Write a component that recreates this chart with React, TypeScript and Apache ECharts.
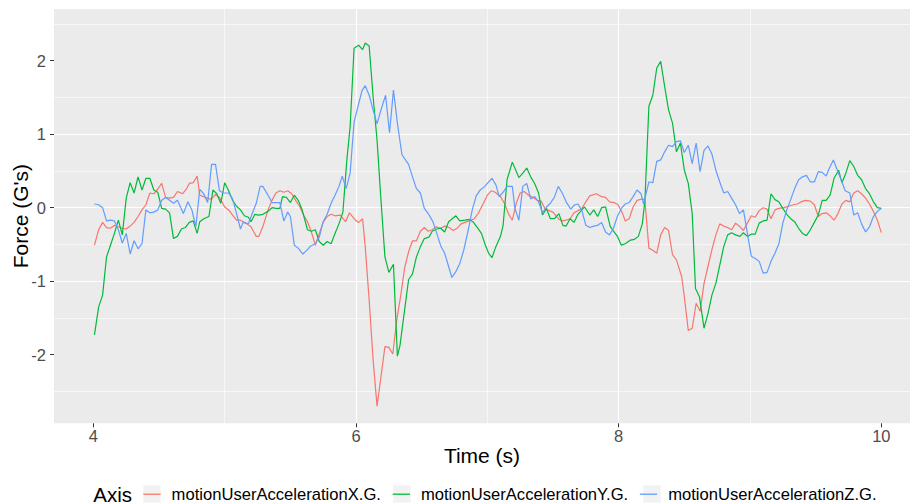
import React, { useEffect, useRef } from 'react';
import * as echarts from 'echarts';

const seriesNames = ['motionUserAccelerationX.G.', 'motionUserAccelerationY.G.', 'motionUserAccelerationZ.G.'];
const seriesColors = ['#F8766D', '#00BA38', '#619CFF'];
const xTicks = [4, 6, 8, 10];
const yTicks = [-2, -1, 0, 1, 2];

const accelX: [number, number][] = [
  [4.008, -0.51], [4.04, -0.3], [4.07, -0.2], [4.1, -0.27], [4.13, -0.28], [4.16, -0.24], [4.19, -0.26], [4.22, -0.28],
  [4.25, -0.29], [4.28, -0.25], [4.31, -0.2], [4.34, -0.12], [4.37, -0.03], [4.4, 0.04], [4.43, 0.2], [4.46, 0.19],
  [4.48, 0.23], [4.52, 0.33], [4.55, 0.14], [4.58, 0.13], [4.61, 0.14], [4.64, 0.22], [4.68, 0.19], [4.71, 0.26],
  [4.73, 0.33], [4.76, 0.34], [4.79, 0.43], [4.81, 0.17], [4.84, 0.15], [4.88, 0.12], [4.9, 0.12], [4.93, 0.18],
  [4.96, 0.14], [5.0, 0.01], [5.03, -0.03], [5.06, -0.1], [5.09, -0.17], [5.12, -0.17], [5.15, -0.2], [5.17, -0.22],
  [5.2, -0.26], [5.24, -0.39], [5.26, -0.39], [5.29, -0.26], [5.33, -0.03], [5.36, 0.1], [5.39, 0.2], [5.42, 0.23],
  [5.45, 0.21], [5.48, 0.23], [5.51, 0.19], [5.54, 0.1], [5.57, 0.02], [5.6, -0.1], [5.63, -0.19], [5.66, -0.33],
  [5.69, -0.51], [5.72, -0.35], [5.75, -0.2], [5.78, -0.12], [5.81, -0.09], [5.84, -0.11], [5.88, -0.1], [5.92, -0.19],
  [5.95, -0.07], [5.99, -0.16], [6.02, -0.2], [6.05, -0.15], [6.07, -0.53], [6.1, -1.26], [6.13, -2.07], [6.16, -2.7],
  [6.19, -2.3], [6.22, -1.89], [6.25, -1.9], [6.28, -1.99], [6.31, -1.53], [6.34, -1.2], [6.37, -0.82], [6.4, -0.6],
  [6.43, -0.45], [6.46, -0.45], [6.49, -0.32], [6.52, -0.27], [6.55, -0.32], [6.58, -0.3], [6.61, -0.26], [6.645, -0.28],
  [6.675, -0.25], [6.71, -0.27], [6.74, -0.31], [6.77, -0.28], [6.8, -0.22], [6.83, -0.2], [6.86, -0.18], [6.9, -0.15],
  [6.93, -0.08], [6.97, 0.06], [7.0, 0.17], [7.03, 0.23], [7.06, 0.21], [7.1, 0.15], [7.13, 0.06], [7.16, -0.08],
  [7.19, -0.17], [7.22, 0.06], [7.25, 0.2], [7.28, 0.22], [7.32, 0.16], [7.35, 0.14], [7.38, 0.1], [7.41, 0.09],
  [7.44, -0.02], [7.47, -0.04], [7.5, -0.06], [7.54, -0.15], [7.57, -0.18], [7.6, -0.17], [7.63, -0.15], [7.66, -0.07],
  [7.69, -0.04], [7.72, -0.01], [7.75, 0.08], [7.78, 0.16], [7.83, 0.19], [7.87, 0.15], [7.9, 0.14], [7.93, 0.08],
  [7.965, 0.07], [7.995, 0.04], [8.03, -0.08], [8.05, -0.18], [8.08, -0.15], [8.11, 0.01], [8.14, 0.1], [8.18, 0.12],
  [8.2, 0.1], [8.23, -0.55], [8.26, -0.58], [8.29, -0.62], [8.32, -0.37], [8.35, -0.27], [8.38, -0.31], [8.41, -0.64],
  [8.44, -0.71], [8.48, -0.94], [8.5, -1.21], [8.53, -1.67], [8.56, -1.64], [8.59, -1.3], [8.62, -1.41], [8.65, -1.03],
  [8.68, -0.8], [8.71, -0.57], [8.74, -0.37], [8.77, -0.22], [8.8, -0.25], [8.83, -0.27], [8.86, -0.3], [8.89, -0.21],
  [8.924, -0.26], [8.95, -0.31], [8.98, -0.21], [9.01, -0.11], [9.04, -0.13], [9.07, -0.04], [9.1, 0.0], [9.13, -0.02],
  [9.16, -0.15], [9.19, -0.03], [9.22, -0.01], [9.26, 0.0], [9.295, 0.02], [9.33, 0.04], [9.36, 0.05], [9.39, 0.08],
  [9.42, 0.1], [9.46, 0.09], [9.49, 0.04], [9.52, -0.12], [9.55, -0.08], [9.58, -0.07], [9.61, -0.11], [9.64, -0.17],
  [9.67, -0.08], [9.7, 0.05], [9.73, 0.1], [9.76, 0.08], [9.79, 0.2], [9.82, 0.23], [9.85, 0.19], [9.88, 0.13],
  [9.91, 0.05], [9.94, -0.05], [9.97, -0.17], [10.0, -0.34],
];

const accelY: [number, number][] = [
  [4.008, -1.73], [4.04, -1.35], [4.07, -1.19], [4.1, -0.67], [4.13, -0.51], [4.16, -0.35], [4.19, -0.17], [4.22, -0.37],
  [4.25, 0.13], [4.28, 0.34], [4.31, 0.2], [4.34, 0.42], [4.37, 0.24], [4.4, 0.4], [4.43, 0.4], [4.46, 0.24],
  [4.49, 0.21], [4.52, -0.01], [4.55, -0.02], [4.58, -0.07], [4.61, -0.42], [4.64, -0.39], [4.67, -0.29], [4.7, -0.27],
  [4.73, -0.2], [4.76, -0.18], [4.79, -0.35], [4.81, -0.19], [4.84, -0.15], [4.88, -0.12], [4.91, 0.24], [4.94, 0.19],
  [4.97, 0.06], [5.0, 0.34], [5.03, 0.23], [5.06, 0.1], [5.09, 0.02], [5.12, -0.03], [5.15, -0.11], [5.18, -0.13],
  [5.2, -0.19], [5.23, -0.09], [5.26, -0.1], [5.29, -0.09], [5.33, -0.05], [5.36, 0.0], [5.39, -0.01], [5.42, -0.01],
  [5.44, 0.15], [5.47, 0.14], [5.5, 0.07], [5.53, 0.17], [5.56, 0.1], [5.59, -0.03], [5.63, -0.3], [5.66, -0.32],
  [5.69, -0.3], [5.72, -0.46], [5.75, -0.51], [5.78, -0.46], [5.81, -0.49], [5.84, -0.35], [5.87, -0.22], [5.9, -0.06],
  [5.93, 0.65], [5.955, 1.1], [5.985, 2.17], [6.02, 2.21], [6.05, 2.15], [6.07, 2.24], [6.1, 2.2], [6.13, 1.51],
  [6.16, 0.92], [6.19, 0.1], [6.22, -0.67], [6.25, -0.88], [6.285, -0.77], [6.315, -2.02], [6.335, -1.87], [6.37, -1.39],
  [6.4, -0.98], [6.43, -0.9], [6.46, -0.67], [6.49, -0.53], [6.52, -0.42], [6.555, -0.4], [6.58, -0.32], [6.615, -0.29],
  [6.645, -0.28], [6.675, -0.33], [6.705, -0.19], [6.76, -0.11], [6.79, -0.18], [6.83, -0.17], [6.86, -0.16], [6.89, -0.19],
  [6.92, -0.26], [6.955, -0.35], [6.985, -0.51], [7.01, -0.62], [7.035, -0.68], [7.065, -0.53], [7.1, -0.39], [7.12, -0.24],
  [7.15, 0.38], [7.19, 0.62], [7.24, 0.41], [7.27, 0.47], [7.3, 0.54], [7.33, 0.42], [7.36, 0.33], [7.39, 0.2],
  [7.42, -0.1], [7.45, -0.01], [7.48, -0.15], [7.51, -0.15], [7.545, -0.08], [7.575, -0.24], [7.6, -0.25], [7.63, -0.15],
  [7.66, -0.2], [7.69, -0.09], [7.74, 0.01], [7.78, -0.1], [7.81, -0.03], [7.84, -0.12], [7.87, 0.0], [7.9, 0.01],
  [7.935, -0.25], [7.965, -0.33], [7.99, -0.39], [8.02, -0.51], [8.05, -0.49], [8.09, -0.44], [8.12, -0.43], [8.15, -0.39],
  [8.18, -0.22], [8.2, 0.1], [8.23, 1.38], [8.26, 1.53], [8.29, 1.9], [8.32, 1.99], [8.35, 1.65], [8.38, 1.33],
  [8.41, 1.15], [8.44, 0.76], [8.47, 0.88], [8.5, 0.51], [8.53, 0.33], [8.56, -0.08], [8.585, -1.1], [8.615, -1.21],
  [8.65, -1.64], [8.68, -1.44], [8.71, -1.19], [8.74, -1.03], [8.77, -0.78], [8.8, -0.53], [8.83, -0.37], [8.86, -0.34],
  [8.89, -0.37], [8.924, -0.39], [8.95, -0.34], [8.98, -0.39], [9.01, -0.36], [9.04, -0.36], [9.07, -0.21], [9.1, -0.18],
  [9.13, -0.17], [9.16, 0.19], [9.19, 0.11], [9.22, 0.08], [9.25, -0.01], [9.28, -0.09], [9.31, -0.15], [9.34, -0.19],
  [9.37, -0.28], [9.4, -0.35], [9.43, -0.38], [9.46, -0.3], [9.49, -0.2], [9.52, -0.1], [9.55, 0.1], [9.58, 0.1],
  [9.61, 0.17], [9.64, 0.4], [9.675, 0.51], [9.7, 0.34], [9.73, 0.47], [9.76, 0.64], [9.79, 0.56], [9.82, 0.44],
  [9.85, 0.38], [9.88, 0.26], [9.91, 0.19], [9.94, 0.08], [9.97, 0.0], [10.0, -0.01],
];

const accelZ: [number, number][] = [
  [4.008, 0.05], [4.04, 0.04], [4.07, 0.0], [4.1, -0.18], [4.13, -0.17], [4.16, -0.18], [4.19, -0.3], [4.22, -0.48],
  [4.25, -0.35], [4.28, -0.63], [4.31, -0.45], [4.34, -0.56], [4.37, -0.49], [4.4, -0.03], [4.43, -0.07], [4.46, -0.06],
  [4.49, -0.03], [4.52, 0.1], [4.55, 0.14], [4.58, 0.1], [4.61, 0.06], [4.64, 0.1], [4.685, -0.08], [4.72, 0.08],
  [4.75, -0.03], [4.78, -0.26], [4.81, 0.25], [4.84, 0.19], [4.87, 0.07], [4.9, 0.59], [4.93, 0.59], [4.96, 0.23],
  [4.99, 0.2], [5.03, 0.2], [5.06, 0.12], [5.09, -0.08], [5.12, -0.29], [5.14, -0.2], [5.18, -0.22], [5.21, -0.08],
  [5.24, 0.06], [5.27, 0.29], [5.29, 0.29], [5.33, 0.17], [5.36, 0.07], [5.42, 0.07], [5.45, -0.18], [5.48, -0.06],
  [5.5, -0.12], [5.53, -0.51], [5.56, -0.55], [5.595, -0.63], [5.625, -0.58], [5.655, -0.52], [5.69, -0.49], [5.72, -0.4],
  [5.75, -0.19], [5.78, -0.09], [5.81, 0.06], [5.84, 0.17], [5.87, 0.29], [5.895, 0.43], [5.925, 0.26], [5.955, 0.47],
  [5.985, 1.16], [6.015, 1.38], [6.045, 1.59], [6.07, 1.66], [6.1, 1.53], [6.13, 1.33], [6.16, 1.14], [6.19, 1.33],
  [6.225, 1.53], [6.255, 1.02], [6.285, 1.6], [6.315, 1.15], [6.335, 0.9], [6.35, 0.72], [6.4, 0.59], [6.43, 0.42],
  [6.46, 0.26], [6.49, 0.2], [6.52, -0.01], [6.55, -0.08], [6.585, -0.19], [6.615, -0.35], [6.645, -0.52], [6.675, -0.62],
  [6.705, -0.8], [6.73, -0.95], [6.76, -0.87], [6.79, -0.76], [6.82, -0.58], [6.855, -0.3], [6.885, -0.03], [6.915, 0.16],
  [6.945, 0.24], [6.975, 0.28], [7.005, 0.34], [7.035, 0.4], [7.065, 0.31], [7.09, 0.15], [7.12, 0.21], [7.15, 0.29],
  [7.19, 0.29], [7.21, -0.01], [7.24, -0.17], [7.27, 0.29], [7.3, 0.33], [7.33, 0.12], [7.36, 0.15], [7.39, 0.08],
  [7.42, -0.07], [7.45, 0.01], [7.48, 0.06], [7.51, 0.14], [7.54, 0.29], [7.57, 0.2], [7.6, 0.08], [7.635, -0.02],
  [7.665, 0.04], [7.69, 0.05], [7.72, -0.04], [7.75, -0.24], [7.78, -0.27], [7.81, -0.25], [7.84, -0.24], [7.87, -0.2],
  [7.9, -0.33], [7.93, -0.37], [7.96, -0.28], [7.99, -0.12], [8.02, -0.01], [8.05, 0.05], [8.08, 0.07], [8.11, 0.15],
  [8.14, 0.24], [8.17, 0.19], [8.19, 0.05], [8.23, 0.35], [8.26, 0.34], [8.29, 0.63], [8.32, 0.65], [8.35, 0.76],
  [8.38, 0.85], [8.41, 0.83], [8.44, 0.9], [8.47, 0.91], [8.5, 0.75], [8.53, 0.85], [8.56, 0.6], [8.59, 0.88],
  [8.62, 0.49], [8.65, 0.78], [8.68, 0.84], [8.71, 0.73], [8.74, 0.51], [8.77, 0.35], [8.8, 0.2], [8.83, 0.22],
  [8.86, 0.13], [8.89, 0.04], [8.92, -0.08], [8.95, -0.03], [8.98, -0.35], [9.01, -0.66], [9.04, -0.69], [9.07, -0.73],
  [9.1, -0.89], [9.13, -0.88], [9.16, -0.73], [9.19, -0.62], [9.22, -0.49], [9.25, -0.21], [9.28, -0.03], [9.31, 0.11],
  [9.34, 0.26], [9.37, 0.38], [9.4, 0.42], [9.43, 0.44], [9.46, 0.35], [9.49, 0.35], [9.52, 0.49], [9.55, 0.48],
  [9.58, 0.43], [9.605, 0.54], [9.635, 0.65], [9.665, 0.51], [9.7, 0.35], [9.725, 0.23], [9.76, 0.2], [9.79, -0.1],
  [9.82, -0.07], [9.85, -0.22], [9.88, -0.33], [9.91, -0.26], [9.94, -0.12], [9.97, -0.05], [10.0, -0.01],
];

const seriesData = [accelX, accelY, accelZ];

export default function App() {
  const ref = useRef<HTMLDivElement>(null);
  useEffect(() => {
    document.body.style.margin = '0';
    const chart = echarts.init(ref.current as HTMLDivElement, null, { renderer: 'svg' });
    const font = '"Liberation Sans", Arial, sans-serif';
    const keyX = [143.3, 393.3, 643.3];
    chart.setOption({
      animation: false,
      backgroundColor: '#FFFFFF',
      grid: {
        left: 54, right: 0, top: 9, bottom: 80.7,
        show: true, backgroundColor: '#EBEBEB', borderWidth: 0,
        containLabel: false, outerBoundsMode: 'none',
      },
      xAxis: {
        type: 'value', min: 3.7, max: 10.2185, splitNumber: 3, minInterval: 2, maxInterval: 2,
        name: 'Time (s)', nameLocation: 'middle', nameGap: 22, nameMoveOverlap: false,
        nameTextStyle: { fontSize: 21, color: '#000000', fontFamily: font },
        axisLine: { show: false, onZero: false },
        axisTick: { show: true, length: 4, customValues: xTicks, lineStyle: { color: '#333333', width: 1 } },
        axisLabel: { customValues: xTicks, fontSize: 16.5, color: '#4D4D4D', margin: 4, fontFamily: font },
        splitLine: { show: true, showMinLine: false, showMaxLine: false, lineStyle: { color: '#FFFFFF', width: 1.2 } },
        minorTick: { show: false, splitNumber: 2 },
        minorSplitLine: { show: true, lineStyle: { color: '#FFFFFF', width: 0.6 } },
      },
      yAxis: {
        type: 'value', min: -2.933, max: 2.703, splitNumber: 5, minInterval: 1, maxInterval: 1,
        name: "Force (G's)", nameLocation: 'middle', nameGap: 23, nameMoveOverlap: false,
        nameTextStyle: { fontSize: 21, color: '#000000', fontFamily: font },
        axisLine: { show: false, onZero: false },
        axisTick: { show: true, length: 4, customValues: yTicks, lineStyle: { color: '#333333', width: 1 } },
        axisLabel: { customValues: yTicks, fontSize: 16.5, color: '#4D4D4D', margin: 8, fontFamily: font },
        splitLine: { show: true, showMinLine: false, showMaxLine: false, lineStyle: { color: '#FFFFFF', width: 1.2 } },
        minorTick: { show: false, splitNumber: 2 },
        minorSplitLine: { show: true, lineStyle: { color: '#FFFFFF', width: 0.6 } },
      },
      legend: {
        left: 143.3, top: 485.7, padding: 0, orient: 'horizontal',
        itemWidth: 17.3, itemHeight: 1.3, itemGap: 11.7, icon: 'rect',
        textStyle: { fontSize: 16.6, color: '#000000', fontFamily: font, padding: [0, 0, 0, 6] },
        data: seriesNames,
        selectedMode: false,
      },
      graphic: [
        {
          type: 'text', x: 93.3, y: 494, z: 10,
          style: { text: 'Axis', fontSize: 20.5, fontFamily: font, fill: '#000000', verticalAlign: 'middle', align: 'left' },
        },
        ...keyX.map((kx) => ({
          type: 'rect', z: 0, silent: true,
          shape: { x: kx, y: 485.3, width: 17.3, height: 17.3 },
          style: { fill: '#F2F2F2' },
        })),
      ],
      series: seriesNames.map((name, i) => ({
        name,
        type: 'line',
        data: seriesData[i],
        showSymbol: false,
        symbol: 'none',
        silent: true,
        clip: true,
        z: 2 + i,
        color: seriesColors[i],
        itemStyle: { color: seriesColors[i] },
        lineStyle: { color: seriesColors[i], width: 1.2 },
      })),
    });
    return () => chart.dispose();
  }, []);
  return <div ref={ref} style={{ position: 'fixed', left: 0, top: 0, width: 910, height: 504 }} />;
}
